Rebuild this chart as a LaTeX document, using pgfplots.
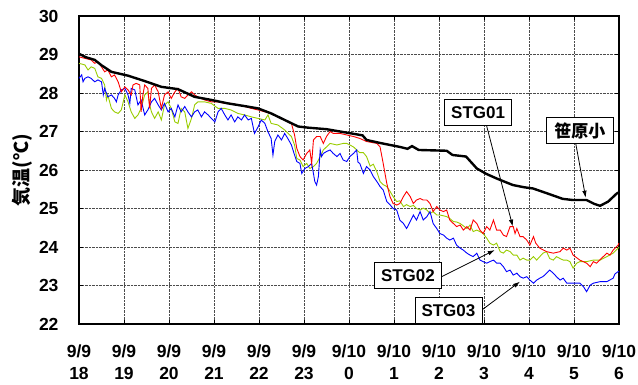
\documentclass[border=0pt]{standalone}
\usepackage{pgfplots}
\pgfplotsset{compat=1.18}
\usepackage{fontspec}
\setmainfont{Liberation Sans}
\newfontfamily\cjk{Noto Sans CJK JP}
\usetikzlibrary{arrows.meta}
\definecolor{sgreen}{RGB}{153,204,0}
\begin{document}
\begin{tikzpicture}
\begin{axis}[name=ax, scale only axis, width=540pt, height=308pt,
  xmin=0, xmax=12, ymin=22, ymax=30,
  xtick={0,...,12}, ytick={22,...,30},
  xticklabels={{9/9\\18},{9/9\\19},{9/9\\20},{9/9\\21},{9/9\\22},{9/9\\23},{9/10\\0},{9/10\\1},{9/10\\2},{9/10\\3},{9/10\\4},{9/10\\5},{9/10\\6}},
  /pgf/number format/assume math mode=true,
  xticklabel style={align=center, font=\bfseries\fontsize{17.5}{22}\selectfont, yshift=-17pt},
  yticklabel style={font=\bfseries\fontsize{17.5}{20}\selectfont, xshift=-17pt},
  ylabel={気温(℃)},
  ylabel style={at={(axis description cs:0,0.5)}, anchor=center, yshift=57pt, font=\cjk\bfseries\fontsize{19}{22}\selectfont},
  grid=major, major grid style={densely dotted, black!70, line width=0.6pt},
  axis line style={line width=1.4pt},
  major tick length=4pt, tick style={black, line width=0.8pt},
  clip=false,
]
\addplot[sgreen, line width=0.9pt] coordinates {(0,28.77)(0.13,28.73)(0.20,28.60)(0.27,28.68)(0.35,28.64)(0.42,28.42)(0.50,28.38)(0.57,28.21)(0.61,27.82)(0.64,27.95)(0.72,27.60)(0.79,27.51)(0.87,27.47)(0.94,27.56)(1.02,27.95)(1.09,27.77)(1.16,27.51)(1.24,27.34)(1.31,27.43)(1.38,27.60)(1.46,27.95)(1.53,28.03)(1.57,27.69)(1.61,27.51)(1.68,27.34)(1.76,27.51)(1.83,27.30)(1.90,27.69)(1.98,27.77)(2.05,27.60)(2.13,27.25)(2.20,27.21)(2.27,27.60)(2.35,27.51)(2.42,27.08)(2.50,27.34)(2.57,27.69)(2.64,27.77)(2.79,27.77)(2.94,27.73)(3.09,27.60)(3.24,27.60)(3.38,27.56)(3.53,27.47)(3.68,27.43)(3.83,27.38)(3.98,27.34)(4.13,27.30)(4.20,27.43)(4.27,27.21)(4.42,27.17)(4.57,27.04)(4.72,26.87)(4.79,26.65)(4.84,26.30)(4.91,26.26)(4.98,26.09)(5.06,26.17)(5.13,26.04)(5.21,26.09)(5.28,26.17)(5.36,26.35)(5.43,26.52)(5.50,26.60)(5.58,26.69)(5.73,26.65)(5.87,26.69)(5.95,26.69)(6.10,26.60)(6.17,26.52)(6.24,26.45)(6.32,26.45)(6.39,26.35)(6.47,26.10)(6.54,26.15)(6.62,25.95)(6.69,25.70)(6.76,25.62)(6.84,25.57)(6.91,25.45)(6.98,25.31)(7.06,25.18)(7.13,25.20)(7.21,25.05)(7.28,25.10)(7.36,25.05)(7.43,25.08)(7.50,25.00)(7.58,24.96)(7.65,25.01)(7.73,24.96)(7.80,24.87)(7.87,24.92)(7.95,24.83)(8.02,24.83)(8.10,24.81)(8.17,24.79)(8.24,24.74)(8.32,24.66)(8.39,24.65)(8.47,24.61)(8.54,24.55)(8.62,24.48)(8.69,24.57)(8.76,24.40)(8.84,24.44)(8.91,24.40)(8.98,24.35)(9.06,24.23)(9.13,24.10)(9.21,24.05)(9.28,24.10)(9.36,23.88)(9.43,23.84)(9.50,23.92)(9.58,23.88)(9.65,23.79)(9.73,23.79)(9.80,23.66)(9.87,23.71)(9.95,23.66)(10.02,23.66)(10.10,23.75)(10.17,23.66)(10.24,23.75)(10.31,23.84)(10.39,23.88)(10.46,23.70)(10.54,23.66)(10.61,23.75)(10.69,23.70)(10.76,23.66)(10.84,23.66)(10.91,23.62)(10.98,23.45)(11.06,23.58)(11.13,23.62)(11.28,23.62)(11.43,23.66)(11.58,23.66)(11.73,23.75)(11.87,23.84)(11.98,23.97)(12.0,24.0)};
\addplot[blue, line width=0.9pt] coordinates {(0,28.38)(0.06,28.47)(0.09,28.29)(0.13,28.38)(0.20,28.42)(0.27,28.38)(0.35,28.29)(0.42,28.34)(0.50,28.29)(0.54,27.95)(0.57,28.12)(0.64,27.90)(0.72,27.95)(0.79,27.86)(0.83,27.77)(0.87,27.95)(0.94,28.08)(1.02,28.12)(1.09,27.95)(1.13,27.73)(1.16,28.12)(1.24,28.08)(1.31,27.69)(1.38,27.82)(1.46,27.43)(1.53,27.56)(1.61,27.77)(1.68,27.86)(1.76,27.69)(1.83,27.56)(1.90,27.73)(1.98,27.51)(2.05,27.60)(2.13,27.38)(2.20,27.69)(2.27,27.51)(2.35,27.65)(2.42,27.51)(2.50,27.38)(2.57,27.51)(2.64,27.56)(2.72,27.38)(2.79,27.51)(2.87,27.43)(2.94,27.34)(3.02,27.25)(3.09,27.51)(3.16,27.60)(3.24,27.43)(3.31,27.30)(3.38,27.43)(3.46,27.25)(3.53,27.38)(3.61,27.30)(3.68,27.43)(3.76,27.30)(3.83,27.34)(3.90,26.95)(3.98,27.12)(4.05,27.30)(4.13,27.21)(4.20,26.99)(4.27,26.82)(4.31,26.39)(4.35,26.74)(4.42,26.91)(4.50,26.78)(4.57,26.95)(4.64,26.82)(4.72,26.65)(4.79,26.39)(4.84,26.22)(4.91,26.17)(4.95,25.91)(5.02,26.04)(5.10,26.09)(5.17,26.17)(5.21,25.91)(5.24,25.70)(5.28,25.61)(5.32,25.83)(5.36,26.52)(5.39,26.35)(5.43,26.43)(5.50,26.48)(5.58,26.52)(5.65,26.43)(5.73,26.35)(5.80,26.43)(5.87,26.26)(5.95,26.22)(6.02,26.35)(6.10,26.43)(6.17,26.52)(6.20,26.20)(6.24,26.17)(6.32,25.91)(6.39,26.09)(6.47,26.00)(6.54,25.83)(6.62,25.70)(6.69,25.57)(6.76,25.48)(6.84,25.18)(6.91,25.10)(6.98,25.00)(7.06,24.96)(7.13,24.70)(7.21,24.61)(7.28,24.48)(7.36,24.66)(7.43,24.83)(7.50,24.70)(7.58,24.92)(7.65,24.70)(7.73,24.79)(7.80,24.92)(7.87,24.61)(7.95,24.48)(8.02,24.35)(8.10,24.31)(8.17,24.23)(8.24,24.18)(8.32,24.23)(8.39,24.05)(8.47,23.97)(8.54,23.92)(8.62,23.84)(8.69,23.79)(8.76,23.75)(8.84,23.84)(8.91,23.66)(8.98,23.62)(9.06,23.58)(9.13,23.62)(9.21,23.66)(9.28,23.58)(9.36,23.58)(9.43,23.49)(9.50,23.36)(9.58,23.40)(9.65,23.27)(9.73,23.32)(9.80,23.23)(9.87,23.19)(9.95,23.23)(10.02,23.14)(10.10,23.06)(10.17,23.14)(10.24,23.19)(10.31,23.23)(10.39,23.32)(10.46,23.40)(10.54,23.32)(10.61,23.23)(10.69,23.14)(10.76,23.19)(10.84,23.06)(10.98,23.06)(11.13,23.06)(11.21,22.97)(11.28,22.84)(11.36,23.01)(11.43,23.06)(11.58,23.10)(11.73,23.10)(11.87,23.19)(11.91,23.30)(11.98,23.36)(12.0,23.36)};
\addplot[red, line width=0.9pt] coordinates {(0,28.94)(0.13,28.90)(0.27,28.86)(0.35,28.77)(0.42,28.81)(0.50,28.68)(0.57,28.55)(0.64,28.60)(0.72,28.42)(0.79,28.47)(0.87,28.29)(0.94,28.03)(1.02,28.16)(1.09,28.08)(1.16,27.95)(1.20,28.21)(1.27,28.25)(1.35,28.21)(1.38,27.51)(1.42,27.95)(1.46,28.21)(1.53,28.12)(1.57,27.60)(1.61,28.12)(1.68,28.21)(1.76,28.03)(1.83,27.60)(1.90,27.95)(1.98,28.03)(2.05,27.86)(2.13,28.03)(2.20,28.12)(2.27,27.90)(2.35,27.86)(2.42,27.95)(2.50,28.03)(2.57,27.95)(2.64,27.90)(2.79,27.82)(2.94,27.77)(3.09,27.77)(3.24,27.73)(3.38,27.73)(3.53,27.69)(3.68,27.65)(3.83,27.60)(3.98,27.56)(4.13,27.51)(4.27,27.47)(4.42,27.38)(4.57,27.30)(4.72,27.21)(4.79,26.91)(4.84,26.56)(4.91,26.35)(4.98,26.26)(5.06,26.43)(5.13,26.52)(5.17,26.17)(5.21,26.78)(5.28,26.87)(5.36,26.87)(5.43,26.69)(5.50,26.87)(5.58,27.00)(5.65,26.95)(5.80,26.95)(5.95,26.91)(6.10,26.87)(6.24,26.82)(6.39,26.74)(6.62,26.69)(6.69,26.60)(6.76,26.17)(6.84,25.65)(6.91,25.31)(6.98,25.13)(7.06,25.09)(7.13,25.13)(7.21,25.31)(7.28,25.44)(7.36,25.31)(7.43,25.13)(7.50,25.22)(7.58,25.26)(7.65,25.22)(7.73,25.22)(7.80,25.13)(7.87,24.92)(7.95,25.05)(8.02,24.96)(8.10,24.92)(8.17,24.96)(8.24,24.70)(8.32,24.61)(8.39,24.53)(8.47,24.57)(8.54,24.44)(8.62,24.53)(8.69,24.44)(8.76,24.70)(8.84,24.61)(8.91,24.44)(8.98,24.35)(9.06,24.53)(9.13,24.44)(9.21,24.70)(9.28,24.44)(9.36,24.44)(9.43,24.31)(9.50,24.27)(9.58,24.53)(9.65,24.53)(9.69,24.35)(9.73,24.48)(9.80,24.27)(9.87,24.27)(9.95,24.18)(10.02,24.05)(10.10,24.27)(10.15,24.10)(10.24,23.97)(10.39,23.88)(10.54,23.84)(10.69,23.88)(10.76,23.97)(10.84,23.92)(10.91,23.97)(10.98,23.79)(11.13,23.66)(11.28,23.58)(11.36,23.49)(11.43,23.62)(11.50,23.58)(11.65,23.75)(11.73,23.84)(11.80,23.79)(11.87,23.92)(11.98,24.05)(12.0,24.10)};
\addplot[black, line width=2.4pt] coordinates {(0,29.02)(0.15,28.93)(0.35,28.86)(0.5,28.72)(0.72,28.55)(1.09,28.45)(1.46,28.31)(1.83,28.16)(2.2,28.1)(2.57,27.9)(2.94,27.82)(3.31,27.73)(3.68,27.66)(3.98,27.6)(4.27,27.47)(4.57,27.3)(4.87,27.13)(5.09,27.1)(5.5,27.06)(6.0,26.96)(6.3,26.9)(6.39,26.78)(6.7,26.7)(7.13,26.6)(7.3,26.55)(7.4,26.62)(7.55,26.52)(8.17,26.5)(8.3,26.39)(8.6,26.35)(8.84,26.04)(9.05,25.9)(9.28,25.78)(9.64,25.61)(9.9,25.55)(10.09,25.52)(10.46,25.37)(10.75,25.25)(10.98,25.22)(11.28,25.22)(11.45,25.12)(11.58,25.07)(11.76,25.18)(11.95,25.39)(12.0,25.42)};
\tikzset{lab/.style={draw=black, fill=white, line width=0.9pt, font=\bfseries\fontsize{17}{20}\selectfont, minimum width=67pt, minimum height=26pt, inner sep=2pt},
  arr/.style={line width=0.8pt, -{Latex[length=7pt,width=4.5pt]}}}
\draw[arr] (axis cs:9.06,27.14) -- (axis cs:9.64,24.53);
\draw[arr] (axis cs:11.04,26.68) -- (axis cs:11.26,25.28);
\draw[arr] (axis cs:8.06,23.23) -- (axis cs:9.24,23.92);
\draw[arr] (axis cs:8.97,22.38) -- (axis cs:9.8,23.10);
\node[lab] at (axis cs:8.87,27.49) {STG01};
\node[lab, font=\cjk\bfseries\fontsize{17}{20}\selectfont] at (axis cs:11.13,27.02) {笹原小};
\node[lab] at (axis cs:7.31,23.26) {STG02};
\node[lab] at (axis cs:8.21,22.35) {STG03};
\end{axis}
\pgfresetboundingbox
\path ([shift={(-79pt,-61pt)}]ax.south west) rectangle ([shift={(19pt,16pt)}]ax.north east);
\end{tikzpicture}
\end{document}
